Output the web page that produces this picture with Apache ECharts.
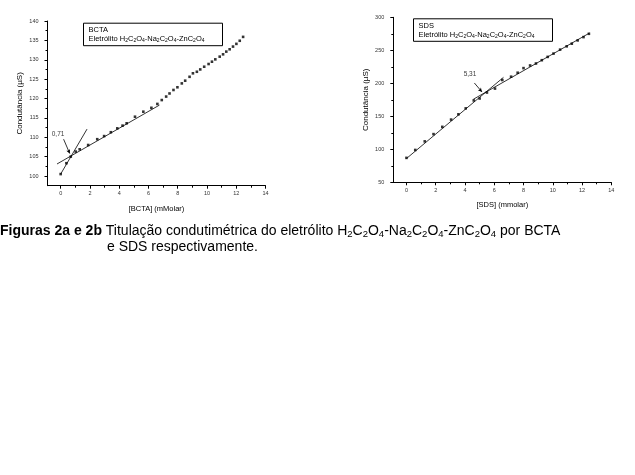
<!DOCTYPE html>
<html><head><meta charset="utf-8">
<script src="https://cdn.jsdelivr.net/npm/echarts@6/dist/echarts.min.js"></script>
<style>html,body{margin:0;padding:0;background:#fff}#c{width:635px;height:475px}</style>
</head><body><div id="c"></div>
<script>
// ---- Data ----
const bctaX = [0, 0.39, 0.69, 1.03, 1.3, 1.88, 2.5, 2.97, 3.43, 3.87, 4.23, 4.51, 5.08, 5.65, 6.2, 6.61, 6.91, 7.21, 7.44, 7.71, 7.98, 8.28, 8.51, 8.81, 9.04, 9.31, 9.54, 9.81, 10.11, 10.34, 10.57, 10.87, 11.1, 11.32, 11.55, 11.78, 12.01, 12.24, 12.47];
const bctaY = [100.5, 103.3, 105.0, 106.3, 106.9, 108.0, 109.5, 110.3, 111.3, 112.3, 113.0, 113.6, 115.3, 116.6, 117.6, 118.6, 119.6, 120.5, 121.3, 122.2, 122.9, 123.9, 124.6, 125.6, 126.5, 126.9, 127.5, 128.2, 128.9, 129.5, 130.1, 130.8, 131.4, 132.1, 132.7, 133.4, 134.1, 134.9, 135.9];
const bctaFitShallowX = [-0.25, 6.75];
const bctaFitShallowY = [103.1, 118.3];
const bctaFitSteepX = [0, 1.8];
const bctaFitSteepY = [100.5, 112.1];
const bctaBreak = {label: '0,71', labelX: -0.18, labelY: 110.7, arrowFrom: [0.2, 109.5], arrowTo: [0.62, 105.8]};

const sdsX = [0, 0.6, 1.25, 1.85, 2.45, 3.05, 3.55, 4.05, 4.6, 5.0, 5.5, 6.05, 6.55, 7.15, 7.6, 8.0, 8.45, 8.85, 9.25, 9.65, 10.05, 10.5, 10.95, 11.3, 11.7, 12.1, 12.47];
const sdsY = [87, 99, 112, 123, 134, 145, 153, 162, 174, 177, 186, 192, 205, 210, 216, 223, 227, 230, 235, 240, 245, 251, 256, 260, 265, 270, 275];
const sdsFitSteepX = [0, 6.63];
const sdsFitSteepY = [86, 209];
const sdsFitShallowX = [4.57, 12.5];
const sdsFitShallowY = [175.8, 276];
const sdsBreak = {label: '5,31', labelX: 4.34, labelY: 214, arrowFrom: [4.64, 200.5], arrowTo: [5.16, 187]};

const xMajorTicks = [0, 2, 4, 6, 8, 10, 12, 14];
const xMinorTicks = [1, 3, 5, 7, 9, 11, 13];
const y1MajorTicks = [100, 105, 110, 115, 120, 125, 130, 135, 140];
const y1MinorTicks = [102.5, 107.5, 112.5, 117.5, 122.5, 127.5, 132.5, 137.5];
const y2MajorTicks = [50, 100, 150, 200, 250, 300];
const y2MinorTicks = [75, 125, 175, 225, 275];

const xName1 = '[BCTA] (mMolar)';
const xName2 = '[SDS] (mmolar)';
const yName = 'Condutância (µS)';
// ---- end data ----

const zip = (a, b) => a.map((v, i) => [v, b[i]]);
const FONT = 'Liberation Sans, Arial, sans-serif';

function mainX(grid, name, min) {
  return {
    type: 'value', gridIndex: grid, position: 'bottom', min: min, max: 14,
    name: name, nameLocation: 'middle', nameGap: 19,
    nameTextStyle: {fontFamily: FONT, fontSize: 7.5, color: '#000'},
    axisLine: {onZero: false, lineStyle: {color: '#000', width: 1}},
    axisTick: {customValues: xMajorTicks, length: 3, inside: false, lineStyle: {color: '#000'}},
    axisLabel: {customValues: xMajorTicks, fontFamily: FONT, fontSize: 5.5, color: '#333', margin: 5},
    splitLine: {show: false}
  };
}
function minorX(grid, min) {
  return {
    type: 'value', gridIndex: grid, position: 'bottom', min: min, max: 14,
    axisLine: {show: false, onZero: false},
    axisTick: {customValues: xMinorTicks, length: 2, lineStyle: {color: '#000'}},
    axisLabel: {show: false}, splitLine: {show: false}
  };
}
function mainY(grid, min, max, ticks, gap) {
  return {
    type: 'value', gridIndex: grid, position: 'left', min: min, max: max,
    name: yName, nameLocation: 'middle', nameGap: gap,
    nameTextStyle: {fontFamily: FONT, fontSize: 8, color: '#000'},
    axisLine: {onZero: false, lineStyle: {color: '#000', width: 1}},
    axisTick: {customValues: ticks, length: 3, lineStyle: {color: '#000'}},
    axisLabel: {customValues: ticks, fontFamily: FONT, fontSize: 5.5, color: '#333', margin: 9},
    splitLine: {show: false}
  };
}
function minorY(grid, min, max, ticks) {
  return {
    type: 'value', gridIndex: grid, position: 'left', min: min, max: max,
    axisLine: {show: false, onZero: false},
    axisTick: {customValues: ticks, length: 2, lineStyle: {color: '#000'}},
    axisLabel: {show: false}, splitLine: {show: false}
  };
}

function fitLine(xi, yi, xs, ys) {
  return {type: 'line', xAxisIndex: xi, yAxisIndex: yi, data: zip(xs, ys), symbol: 'none',
    lineStyle: {color: '#000', width: 0.8}, silent: true, z: 3};
}
function pts(xi, yi, xs, ys) {
  return {type: 'scatter', xAxisIndex: xi, yAxisIndex: yi, data: zip(xs, ys),
    symbol: 'rect', symbolSize: 2.6, itemStyle: {color: '#000'}, z: 4};
}
function annot(xi, yi, b) {
  return {
    type: 'scatter', xAxisIndex: xi, yAxisIndex: yi, data: [[b.labelX, b.labelY]],
    symbolSize: 0, silent: true, z: 5,
    label: {show: true, position: 'inside', formatter: b.label, fontFamily: FONT, fontSize: 6.5, color: '#000'},
    markLine: {
      silent: true, symbol: ['none', 'arrow'], symbolSize: [3, 4],
      lineStyle: {color: '#000', width: 0.8, type: 'solid'}, label: {show: false},
      data: [[{coord: b.arrowFrom}, {coord: b.arrowTo}]]
    }
  };
}

const sub = {fontFamily: FONT, fontSize: 5, verticalAlign: 'bottom', lineHeight: 6, fill: '#000'};
function legendBox(x, y, title) {
  return {
    type: 'group', left: x, top: y,
    children: [
      {type: 'rect', shape: {x: 0, y: 0, width: 139, height: 22.5}, style: {fill: '#fff', stroke: '#000', lineWidth: 1}},
      {type: 'text', x: 5, y: 3, style: {text: title, font: '7.5px ' + FONT, fill: '#000'}},
      {type: 'text', x: 5, y: 12, style: {
        text: 'Eletrólito H{s|2}C{s|2}O{s|4}-Na{s|2}C{s|2}O{s|4}-ZnC{s|2}O{s|4}',
        font: '7.5px ' + FONT, fill: '#000', rich: {s: sub}
      }}
    ]
  };
}

const capSub = {fontFamily: FONT, fontSize: 9.5, verticalAlign: 'bottom', lineHeight: 10, fill: '#000'};
const chart = echarts.init(document.getElementById('c'), null, {renderer: 'canvas'});
chart.setOption({
  backgroundColor: '#fff',
  animation: false,
  grid: [
    {left: 47.5, top: 21, width: 218, height: 164.7},
    {left: 393.3, top: 17.3, width: 218, height: 165}
  ],
  xAxis: [mainX(0, xName1, -0.9), minorX(0, -0.9), mainX(1, xName2, -0.9), minorX(1, -0.9)],
  yAxis: [mainY(0, 97.5, 140, y1MajorTicks, 24), minorY(0, 97.5, 140, y1MinorTicks),
          mainY(1, 50, 300, y2MajorTicks, 24), minorY(1, 50, 300, y2MinorTicks)],
  series: [
    fitLine(0, 0, bctaFitShallowX, bctaFitShallowY),
    fitLine(0, 0, bctaFitSteepX, bctaFitSteepY),
    pts(0, 0, bctaX, bctaY),
    annot(0, 0, bctaBreak),
    fitLine(2, 2, sdsFitSteepX, sdsFitSteepY),
    fitLine(2, 2, sdsFitShallowX, sdsFitShallowY),
    pts(2, 2, sdsX, sdsY),
    annot(2, 2, sdsBreak)
  ],
  graphic: [
    legendBox(83, 22.7, 'BCTA'),
    legendBox(413, 18.3, 'SDS'),
    {type: 'text', left: 0, top: 223, style: {
      text: '{b|Figuras 2a e 2b} Titulação condutimétrica do eletrólito H{s|2}C{s|2}O{s|4}-Na{s|2}C{s|2}O{s|4}-ZnC{s|2}O{s|4} por BCTA',
      font: '14px ' + FONT, fill: '#000', lineHeight: 16,
      rich: {b: {fontFamily: FONT, fontSize: 14, fontWeight: 'bold', lineHeight: 16, fill: '#000'}, s: capSub}
    }},
    {type: 'text', left: 107, top: 240, style: {text: 'e SDS respectivamente.', font: '14px ' + FONT, fill: '#000'}}
  ]
});
</script></body></html>
